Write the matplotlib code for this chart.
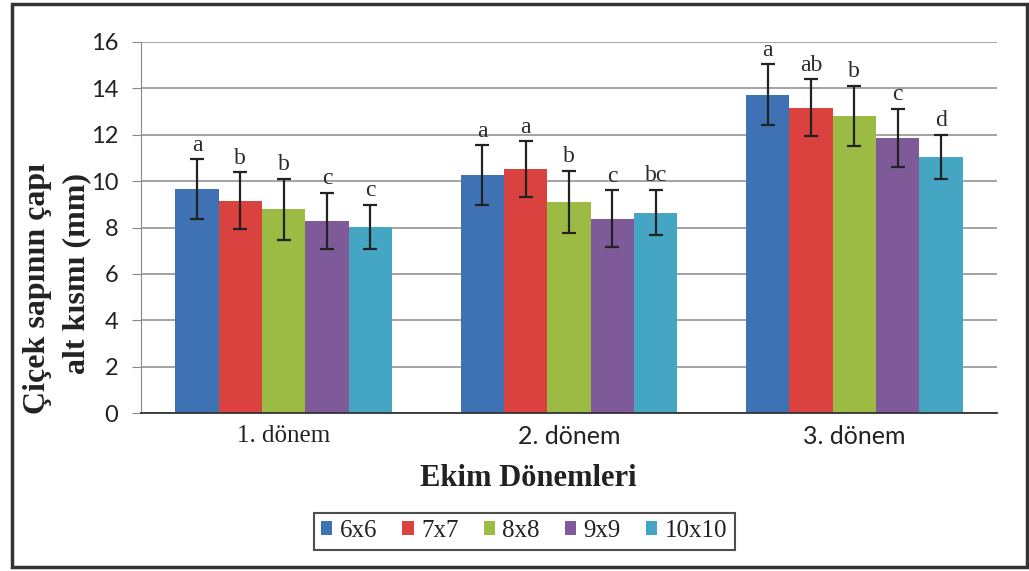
import matplotlib
matplotlib.use("Agg")
import matplotlib.pyplot as plt
import numpy as np
from matplotlib.patches import Rectangle

categories = ["1. dönem", "2. dönem", "3. dönem"]
series_names = ["6x6", "7x7", "8x8", "9x9", "10x10"]
colors = ["#3F72B5", "#D9423F", "#9BBB45", "#7E5A98", "#44A6C2"]

means = {
    "6x6":   [9.65, 10.26, 13.73],
    "7x7":   [9.16, 10.51, 13.17],
    "8x8":   [8.78, 9.11, 12.81],
    "9x9":   [8.29, 8.38, 11.87],
    "10x10": [8.03, 8.64, 11.05],
}
errors = {
    "6x6":   [1.30, 1.28, 1.30],
    "7x7":   [1.23, 1.20, 1.22],
    "8x8":   [1.32, 1.33, 1.30],
    "9x9":   [1.20, 1.22, 1.25],
    "10x10": [0.95, 0.98, 0.95],
}
letters = {
    "6x6":   ["a", "a", "a"],
    "7x7":   ["b", "a", "ab"],
    "8x8":   ["b", "b", "b"],
    "9x9":   ["c", "c", "c"],
    "10x10": ["c", "bc", "d"],
}
yticks = [0, 2, 4, 6, 8, 10, 12, 14, 16]

W, H = 1029, 571
fig = plt.figure(figsize=(W / 100, H / 100), dpi=100)
ax = fig.add_axes([141 / W, 1 - 413 / H, (997 - 141) / W, (413 - 42) / H])

x = np.arange(len(categories))
bw = 0.152
n = len(series_names)
for i, s in enumerate(series_names):
    xs = x + (i - (n - 1) / 2) * bw
    ax.bar(xs, means[s], bw, color=colors[i], label=s, zorder=2)
    ax.errorbar(xs, means[s], yerr=errors[s], fmt="none", ecolor="#222222",
                elinewidth=1.6, capsize=5, capthick=1.6, zorder=3)
    for xi, m, e, l in zip(xs, means[s], errors[s], letters[s]):
        ax.text(xi, m + e + 0.15, l, ha="center", va="bottom",
                family="Liberation Serif", fontsize=17, color="#2a2a2a", zorder=4)

ax.set_xlim(-0.5, 2.5)
ax.set_ylim(0, 16)
ax.set_yticks(yticks)
ax.set_yticklabels([str(t) for t in yticks], family="Lato", fontsize=17, color="#222222")
ax.yaxis.grid(True, color="#8a8a8a", linewidth=1.1, zorder=0)
ax.set_axisbelow(True)
ax.set_xticks(x)
ax.set_xticklabels(categories, fontsize=18, color="#222222")
fams = ["Liberation Serif", "Lato", "Lato"]
for lab, f in zip(ax.get_xticklabels(), fams):
    lab.set_family(f)
ax.tick_params(axis="x", length=0, pad=9)
ax.tick_params(axis="y", length=6.5, color="#888888", pad=10)
for sp in ["top", "right"]:
    ax.spines[sp].set_visible(False)
ax.spines["left"].set_color("#888888")
ax.spines["bottom"].set_color("#333333")
ax.spines["bottom"].set_linewidth(1.3)

fig.text(38 / W, 1 - 288 / H, "Çiçek sapının çapı", rotation=90, ha="center", va="center",
         family="Liberation Serif", fontweight="bold", fontsize=23, color="#222222")
fig.text(77 / W, 1 - 273 / H, "alt kısmı (mm)", rotation=90, ha="center", va="center",
         family="Liberation Serif", fontweight="bold", fontsize=23, color="#222222")
fig.text(528 / W, 1 - 478 / H, "Ekim Dönemleri", ha="center", va="center",
         family="Liberation Serif", fontweight="bold", fontsize=22, color="#222222")

leg = fig.legend(loc="center", bbox_to_anchor=(524 / W, 1 - 531 / H), ncol=5,
                 prop={"family": "Liberation Serif", "size": 18},
                 frameon=True, fancybox=False, edgecolor="#222222",
                 handlelength=0.45, handleheight=0.45, handletextpad=0.3,
                 columnspacing=1.0, borderpad=0.3, borderaxespad=0)
leg.get_frame().set_linewidth(1.5)
for t in leg.get_texts():
    t.set_color("#222222")

fig.patches.append(Rectangle((12 / W, 4 / H), (1027 - 12) / W, (567 - 4) / H,
                             transform=fig.transFigure, fill=False,
                             edgecolor="#333333", linewidth=2.5))

fig.savefig("out.png", dpi=100)
